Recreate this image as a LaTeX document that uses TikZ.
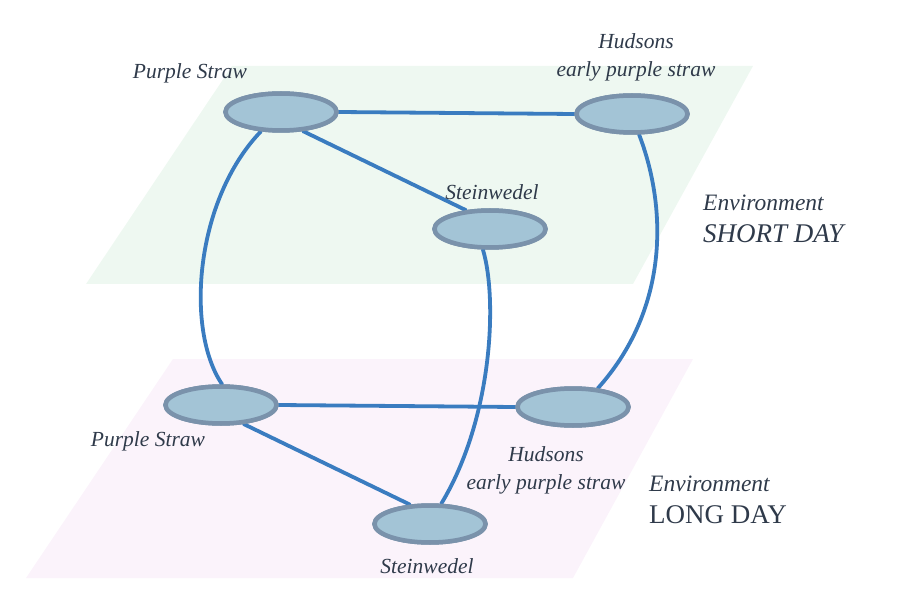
\documentclass[tikz,border=0pt]{standalone}
\usepackage{fontspec}
\setmainfont{Liberation Serif}
\usetikzlibrary{shapes.geometric}
\definecolor{planegreen}{HTML}{EEF8F1}
\definecolor{planepink}{HTML}{FBF3FB}
\definecolor{nodefill}{HTML}{A3C4D6}
\definecolor{nodeborder}{HTML}{7A92AB}
\definecolor{edgeblue}{HTML}{3A7CC0}
\definecolor{labeltext}{HTML}{2F3A4A}
\tikzset{
  plant/.style={ellipse, fill=nodefill, draw=nodeborder, line width=4.5pt,
    minimum width=111pt, minimum height=37pt, inner sep=0pt},
  link/.style={draw=edgeblue, line width=3.8pt, line cap=round},
  lbl/.style={text=labeltext, font=\fontsize{21.5}{28}\selectfont\itshape, align=center, inner sep=0pt},
  envlbl/.style={text=labeltext, font=\fontsize{23.5}{32}\selectfont, align=left, inner sep=0pt, anchor=west},
}
\begin{document}
\begin{tikzpicture}[x=1pt,y=-1pt]
\useasboundingbox (0,0) rectangle (902,612);
% planes
\fill[planegreen] (232,66) -- (753,66) -- (633,284) -- (86,284) -- cycle;
\fill[planepink] (173,359) -- (693,359) -- (573,578) -- (26,578) -- cycle;
% nodes (placed first so connectors can refer to them)
\node[plant] (pst) at (281,112) {};
\node[plant] (hut) at (632,114) {};
\node[plant] (stt) at (490,229) {};
\node[plant] (psb) at (221,405) {};
\node[plant] (hub) at (573,407) {};
\node[plant] (stb) at (430,524) {};
% edges
\draw[link] (pst.east) -- (hut.west);
\draw[link] (pst.-41) -- (stt.142);
\draw[link] (pst.-136) .. controls (195,200) and (185,330) .. (psb.87);
\draw[link] (hut.-71) .. controls (668,210) and (668,310) .. (hub.37);
\draw[link] (stt.-109) .. controls (498,300) and (492,420) .. (stb.61);
\draw[link] (psb.east) -- (hub.west);
\draw[link] (psb.-40) -- (stb.136);
% redraw nodes on top of the connector ends
\node[plant] at (pst.center) {};
\node[plant] at (hut.center) {};
\node[plant] at (stt.center) {};
\node[plant] at (psb.center) {};
\node[plant] at (hub.center) {};
\node[plant] at (stb.center) {};
% labels
\node[lbl] (l1) at (190,73) {Purple Straw};
\node[lbl] (l2) at (636,57) {Hudsons\\early purple straw};
\node[lbl] (l3) at (492,192) {Steinwedel};
\node[lbl] (l4) at (148,441) {Purple Straw};
\node[lbl] (l5) at (546,470) {Hudsons\\early purple straw};
\node[lbl] (l6) at (427,566) {Steinwedel};
\node[envlbl] (e1) at (703,219) {\itshape Environment\\\fontsize{27}{32}\selectfont\itshape SHORT DAY};
\node[envlbl] (e2) at (649,500) {\itshape Environment\\\fontsize{27}{32}\selectfont LONG DAY};
\end{tikzpicture}
\end{document}
